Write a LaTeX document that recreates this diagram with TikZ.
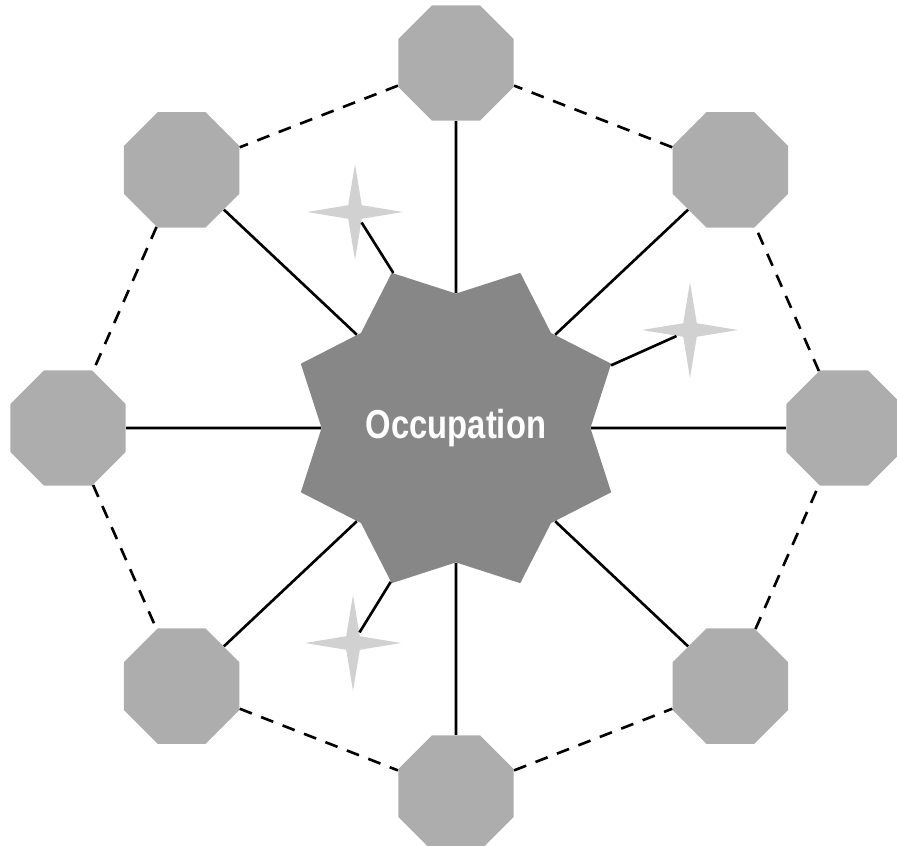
\documentclass[tikz,border=0pt]{standalone}
\usepackage{fontspec}
\newfontfamily\occfont[FakeStretch=0.81]{Liberation Sans}
\usetikzlibrary{shapes.geometric}
\definecolor{octgray}{gray}{0.68}
\definecolor{coregray}{gray}{0.53}
\definecolor{sparkgray}{gray}{0.82}

\begin{document}
\begin{tikzpicture}[x=0.02cm, y=-0.02cm,
    octagon/.style={regular polygon, regular polygon sides=8, minimum size=2.5cm, inner sep=0pt, fill=octgray},
    core/.style={star, star points=8, star point ratio=1.25, shape border rotate=22.5, minimum size=6.72cm, inner sep=0pt, fill=coregray, text=white, font=\occfont\bfseries\fontsize{23}{27}\selectfont},
    sparkle/.style={star, star points=4, star point ratio=5, minimum size=1.92cm, inner sep=0pt, fill=sparkgray},
    link/.style={line width=1.5pt},
    ring/.style={line width=1.5pt, dash pattern=on 0.26cm off 0.2cm}]
            \useasboundingbox (0, 0) rectangle (897, 846);

            \node [core] (core) at (456, 428) {Occupation};

            \foreach \i in {0,...,7}
                {
                    \node [octagon] (o\i) at ({456 + 388*cos(45*\i)}, {428 - 365*sin(45*\i)}) {};
                }

            \foreach \i in {0,...,7}
                {
                    \draw [link] (core) -- (o\i);
                }

            \foreach \i [remember=\i as \last (initially 7)] in {0,...,7}
                {
                    \draw [ring] (o\last) -- (o\i);
                }

            \node [sparkle] (spark nw) at (355, 212) {};
            \node [sparkle] (spark e) at (690, 330) {};
            \node [sparkle] (spark sw) at (353, 643) {};

            \draw [link] (spark nw) -- (core.112.5);
            \draw [link] (spark e) -- (core.22.5);
            \draw [link] (spark sw) -- (core.247.5);
    \end{tikzpicture}
\end{document}
